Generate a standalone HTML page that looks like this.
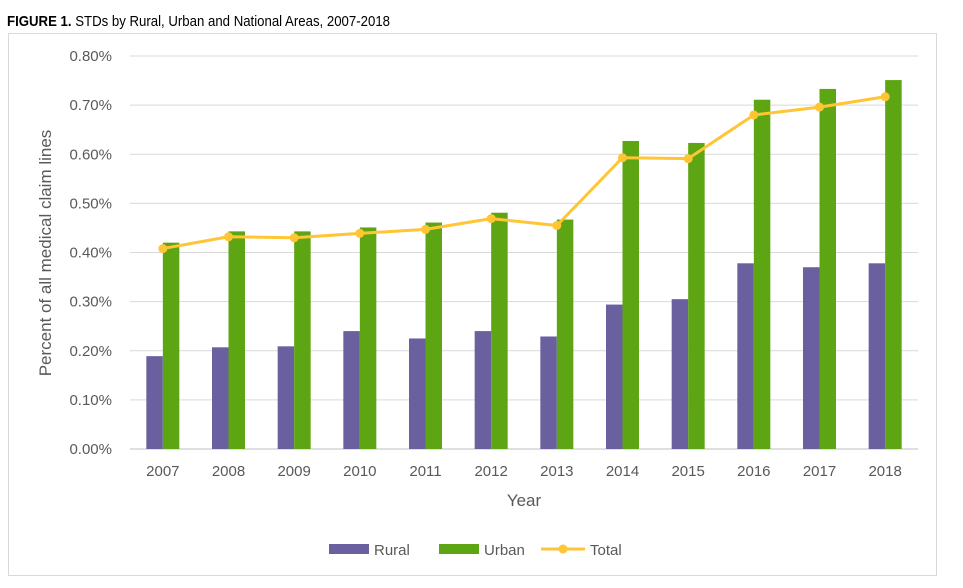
<!DOCTYPE html>
<html><head><meta charset="utf-8"><style>
body{margin:0;background:#fff;width:963px;height:588px;overflow:hidden;font-family:"Liberation Sans",Arial,sans-serif}
#title{position:absolute;left:7px;top:13px;font-size:15px;color:#000;transform:scaleX(0.88);transform-origin:left}
#frame{position:absolute;left:8px;top:33px;width:929px;height:543px;border:1px solid #d9d9d9;box-sizing:border-box}
svg{position:absolute;left:0;top:0}
text{font-family:"Liberation Sans",Arial,sans-serif;fill:#595959}
</style></head><body>
<div id="title"><b>FIGURE 1.</b> STDs by Rural, Urban and National Areas, 2007-2018</div>
<div id="frame"></div>
<svg id="chart" width="963" height="588"></svg>
<script>
const years=["2007","2008","2009","2010","2011","2012","2013","2014","2015","2016","2017","2018"];
const rural=[0.189,0.207,0.209,0.240,0.225,0.240,0.229,0.294,0.305,0.378,0.370,0.378];
const urban=[0.420,0.443,0.443,0.451,0.461,0.481,0.467,0.627,0.623,0.711,0.733,0.751];
const total=[0.408,0.432,0.430,0.439,0.447,0.469,0.455,0.593,0.591,0.680,0.696,0.717];
const yTicks=[0,0.1,0.2,0.3,0.4,0.5,0.6,0.7,0.8];
const yTickLabels=["0.00%","0.10%","0.20%","0.30%","0.40%","0.50%","0.60%","0.70%","0.80%"];
const svg=document.getElementById('chart');
const NS='http://www.w3.org/2000/svg';
const X0=130,X1=918,Y0=449,Y1=56;
const cw=(X1-X0)/years.length;
const xc=i=>X0+cw*(i+0.5);
const y=v=>Y0-(v/0.8)*(Y0-Y1);
function mk(t,a){const e=document.createElementNS(NS,t);for(const k in a)e.setAttribute(k,a[k]);svg.appendChild(e);return e;}
yTicks.forEach((v,i)=>{
  const l=mk('line',{x1:X0,x2:X1,y1:y(v),y2:y(v),stroke:i===0?'#bfbfbf':'#d9d9d9','stroke-width':1});
  
  
  const t=mk('text',{x:112,y:y(v)+5,'text-anchor':'end','font-size':15});
  t.textContent=yTickLabels[i];
  
  
});
const bw=16.5;
years.forEach((yr,i)=>{
  const r=mk('rect',{x:xc(i)-bw,y:y(rural[i]),width:bw,height:Y0-y(rural[i]),fill:'#6a5f9f'});
  
  
  const u=mk('rect',{x:xc(i),y:y(urban[i]),width:bw,height:Y0-y(urban[i]),fill:'#5ea514'});
  
  
  const t=mk('text',{x:xc(i),y:476,'text-anchor':'middle','font-size':15});
  t.textContent=yr;
  
  
});
const pl=mk('polyline',{points:total.map((v,i)=>xc(i)+','+y(v)).join(' '),fill:'none',stroke:'#ffc534','stroke-width':3,'stroke-linejoin':'round'});


total.forEach((v,i)=>{
  const c=mk('circle',{cx:xc(i),cy:y(v),r:4.5,fill:'#ffc534'});
  
  
});
const xt=mk('text',{x:524,y:506,'text-anchor':'middle','font-size':17});
xt.textContent='Year';


const yt=mk('text',{x:0,y:0,'text-anchor':'middle','font-size':17,transform:'translate(51,253) rotate(-90)'});
yt.textContent='Percent of all medical claim lines';


// legend
const lr=mk('rect',{x:329,y:544,width:40,height:10,fill:'#6a5f9f'});


const lt1=mk('text',{x:374,y:555,'font-size':15});lt1.textContent='Rural';


const lu=mk('rect',{x:439,y:544,width:40,height:10,fill:'#5ea514'});


const lt2=mk('text',{x:484,y:555,'font-size':15});lt2.textContent='Urban';


const ll=mk('line',{x1:541,x2:585,y1:549,y2:549,stroke:'#ffc534','stroke-width':3});


const lc=mk('circle',{cx:563,cy:549,r:4.5,fill:'#ffc534'});


const lt3=mk('text',{x:590,y:555,'font-size':15});lt3.textContent='Total';


</script>
</body></html>
